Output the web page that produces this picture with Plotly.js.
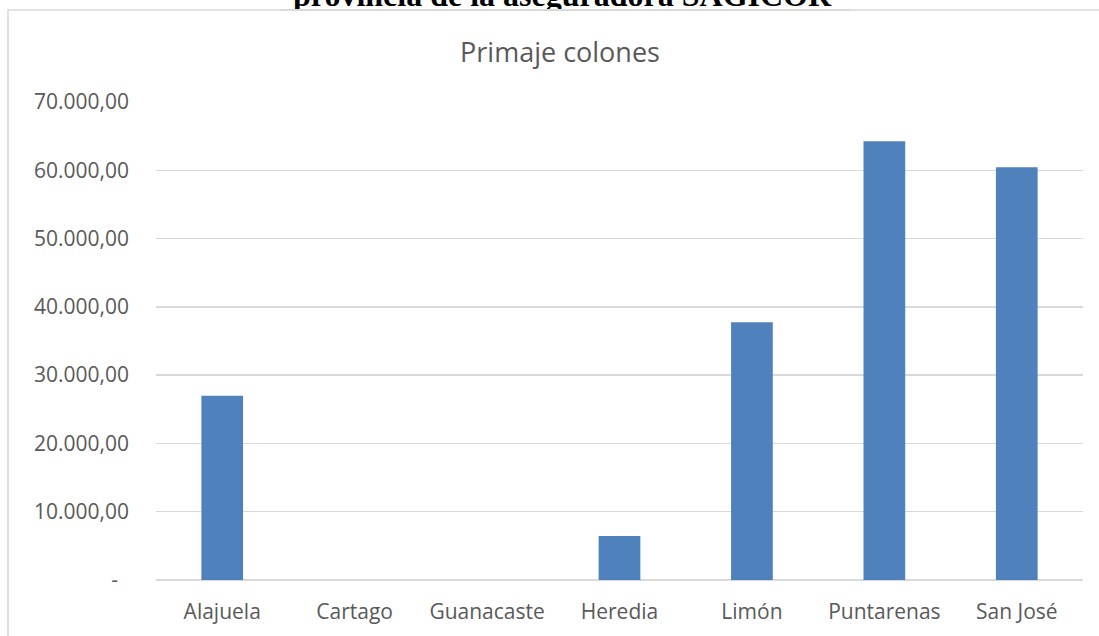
<!DOCTYPE html>
<html>
<head>
<meta charset="utf-8">
<script src="https://cdn.plot.ly/plotly-3.0.1.min.js"></script>
<style>
  html, body { margin: 0; padding: 0; background: #ffffff; }
  #chart { width: 1099px; height: 636px; }
</style>
</head>
<body>
<div id="chart"></div>
<script>
// Primaje por provincia (colones)
const provincias = ["Alajuela", "Cartago", "Guanacaste", "Heredia", "Limón", "Puntarenas", "San José"];
const primaje = [27000, 0, 0, 6450, 37750, 64250, 60450];
const tickValues = [0, 10000, 20000, 30000, 40000, 50000, 60000, 70000];
const tickLabels = ["-\u00a0\u00a0", "10.000,00", "20.000,00", "30.000,00", "40.000,00", "50.000,00", "60.000,00", "70.000,00"];

const chartTitle = "Primaje colones";
const headerText = "provincia de la aseguradora SAGICOR";

// page geometry
const W = 1099, H = 636;
const M = { l: 156, r: 16, t: 102, b: 56 };
const PW = W - M.l - M.r, PH = H - M.t - M.b;
const xp = px => (px - M.l) / PW;          // pixel x -> paper x
const yp = py => (H - M.b - py) / PH;       // pixel y -> paper y

const gridColor = "#d9d9d9";
const textColor = "#595959";
const sansFont = "'Open Sans', 'Liberation Sans', sans-serif";

const trace = {
  type: "bar",
  x: provincias,
  y: primaje,
  marker: { color: "#4f81bd", line: { width: 0 } },
  hoverinfo: "x+y"
};

const layout = {
  width: W,
  height: H,
  margin: M,
  paper_bgcolor: "#ffffff",
  plot_bgcolor: "#ffffff",
  showlegend: false,
  bargap: 0.685,
  title: {
    text: chartTitle,
    font: { family: sansFont, size: 27, color: textColor },
    x: 560 / W, xref: "container", xanchor: "center",
    y: 1 - 53 / H, yref: "container", yanchor: "middle"
  },
  xaxis: {
    type: "category",
    showgrid: false,
    showline: false,
    zeroline: false,
    ticks: "",
    ticklabelstandoff: 17,
    tickfont: { family: sansFont, size: 21, color: textColor },
    fixedrange: true
  },
  yaxis: {
    range: [0, 70000],
    tickmode: "array",
    tickvals: tickValues,
    ticktext: tickLabels,
    showgrid: true,
    gridcolor: gridColor,
    gridwidth: 1.5,
    zeroline: true,
    zerolinecolor: gridColor,
    zerolinewidth: 2,
    showline: false,
    ticks: "",
    ticklabelstandoff: 26,
    tickfont: { family: sansFont, size: 21, color: textColor },
    fixedrange: true
  },
  shapes: [
    {
      // chart frame
      type: "rect", xref: "paper", yref: "paper",
      x0: xp(8), x1: xp(1130), y0: yp(680), y1: yp(10),
      line: { color: gridColor, width: 1.5 },
      fillcolor: "rgba(0,0,0,0)",
      layer: "below"
    }
  ],
  annotations: [
    {
      // document caption above the frame
      text: "<b>" + headerText + "</b>",
      xref: "paper", yref: "paper",
      x: xp(562.5), xanchor: "center",
      y: yp(15), yanchor: "bottom",
      showarrow: false,
      font: { family: "'Liberation Serif', 'Times New Roman', serif", size: 32, color: "#000000" }
    },
    {
      // white chart area sits over the caption
      text: "\u00a0",
      xref: "paper", yref: "paper",
      x: xp(280), xanchor: "left",
      y: yp(10.75), yanchor: "top",
      width: 570, height: 12,
      bgcolor: "#ffffff", borderpad: 0, borderwidth: 0,
      showarrow: false, font: { size: 2 }
    },
    {
      // frame edge over the caption
      text: "\u00a0",
      xref: "paper", yref: "paper",
      x: xp(280), xanchor: "left",
      y: yp(10.75), yanchor: "bottom",
      width: 570, height: 1.5,
      bgcolor: gridColor, borderpad: 0, borderwidth: 0,
      showarrow: false, font: { size: 1 }
    }
  ]
};

Plotly.newPlot("chart", [trace], layout, { displayModeBar: false, staticPlot: true });
</script>
</body>
</html>
